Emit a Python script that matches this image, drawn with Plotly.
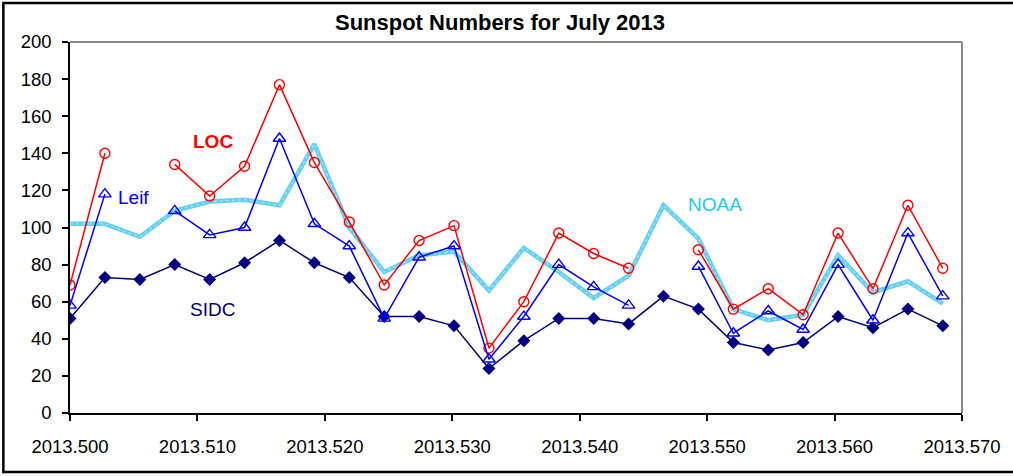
import plotly.graph_objects as go

day_index = list(range(26))
x_years = [2013.5 + d / 365.0 for d in day_index]

loc_vals = [69, 140, None, 134, 117, 133, 177, 135, 103, 69, 93, 101, 35, 60, 97, 86, 78, None, 88, 56, 67, 53, 97, 67, 112, 78]
leif_vals = [58, 118, None, 109, 96, 100, 148, 102, 90, 51, 84, 90, 29, 52, 80, 68, 58, None, 79, 43, 55, 45, 80, 50, 97, 63]
noaa_vals = [102, 102, 95, 109, 114, 115, 112, 145, 100, 76, 85, 87, 66, 89, 76, 62, 74, 112, 94, 56, 50, 53, 85, 65, 71, 59]
sidc_vals = [51, 73, 72, 80, 72, 81, 93, 81, 73, 52, 52, 47, 24, 39, 51, 51, 48, 63, 56, 38, 34, 38, 52, 46, 56, 47]

x_ticks = [2013.50, 2013.51, 2013.52, 2013.53, 2013.54, 2013.55, 2013.56, 2013.57]
x_tick_labels = ["2013.500", "2013.510", "2013.520", "2013.530", "2013.540", "2013.550", "2013.560", "2013.570"]
y_ticks = [0, 20, 40, 60, 80, 100, 120, 140, 160, 180, 200]

FONT = "Liberation Sans, Arial, sans-serif"

fig = go.Figure()

fig.add_trace(go.Scatter(x=x_years, y=noaa_vals, mode="lines", name="NOAA",
                         line=dict(color="#62d0f2", width=4.5)))
fig.add_trace(go.Scatter(x=x_years, y=noaa_vals, mode="lines", name="NOAA2", showlegend=False,
                         line=dict(color="#a8e7f8", width=1.2, dash="dot")))
fig.add_trace(go.Scatter(x=x_years, y=sidc_vals, mode="lines+markers", name="SIDC",
                         line=dict(color="#000080", width=1.5),
                         marker=dict(symbol="diamond", size=10, color="#000080")))
fig.add_trace(go.Scatter(x=x_years, y=loc_vals, mode="lines+markers", name="LOC", connectgaps=False,
                         line=dict(color="#ff0000", width=1.5),
                         marker=dict(symbol="circle-open", size=10, color="#ff0000", line=dict(width=1.4))))
fig.add_trace(go.Scatter(x=x_years, y=leif_vals, mode="lines+markers", name="Leif", connectgaps=False,
                         line=dict(color="#0000ff", width=1.5),
                         marker=dict(symbol="triangle-up-open", size=11, color="#0000ff", line=dict(width=1.4))))

annotations = [
    dict(text="<b>LOC</b>", x=2013.5 + (214 - 70) / 12810.0, y=(413 - 141) / 1.855, font=dict(color="#ff0000", size=19, family=FONT)),
    dict(text="Leif", x=2013.5 + (134 - 70) / 12810.0, y=(413 - 197) / 1.855, font=dict(color="#0000ff", size=19, family=FONT)),
    dict(text="SIDC", x=2013.5 + (213 - 70) / 12810.0, y=(413 - 309) / 1.855, font=dict(color="#000080", size=19, family=FONT)),
    dict(text="NOAA", x=2013.5 + (718 - 70) / 12810.0, y=(413 - 204) / 1.855, font=dict(color="#1ec8f5", size=19, family=FONT)),
]
for a in annotations:
    a.update(xref="x", yref="y", showarrow=False, xanchor="center", yanchor="middle")

W, H = 1013, 476
L, R, T, B = 70, 46, 42, 63
pw, ph = W - L - R, H - T - B

def px_x(p):
    return (p - L) / pw

def px_y(p):
    return (H - B - p) / ph

shapes = [
    dict(type="line", xref="paper", yref="paper", x0=0, x1=1, y0=1, y1=1, line=dict(color="#888888", width=2)),
    dict(type="line", xref="paper", yref="paper", x0=1, x1=1, y0=0, y1=1, line=dict(color="#888888", width=2)),
    dict(type="rect", xref="paper", yref="paper", x0=px_x(3), x1=px_x(1020), y0=px_y(472), y1=px_y(3),
         line=dict(color="#000000", width=2.5), fillcolor="rgba(0,0,0,0)"),
]

fig.update_layout(
    width=W, height=H,
    margin=dict(l=L, r=R, t=T, b=B),
    paper_bgcolor="white", plot_bgcolor="white",
    showlegend=False,
    title=dict(text="<b>Sunspot Numbers for July 2013</b>", x=(500) / W, xanchor="center",
               y=1 - 22 / H, yanchor="middle", font=dict(size=22, color="black", family=FONT)),
    xaxis=dict(range=[2013.5, 2013.57], tickvals=x_ticks, ticktext=x_tick_labels,
               showgrid=False, zeroline=False, showline=True, linecolor="black", linewidth=1.5,
               ticks="outside", ticklen=6, tickcolor="black", tickwidth=1.5,
               tickfont=dict(size=18.5, color="black", family=FONT), ticklabelstandoff=10),
    yaxis=dict(range=[0, 200], tickvals=y_ticks, showgrid=False, zeroline=False,
               showline=True, linecolor="black", linewidth=1.5,
               ticks="outside", ticklen=6, tickcolor="black", tickwidth=1.5,
               tickfont=dict(size=18.5, color="black", family=FONT), ticklabelstandoff=7),
    annotations=annotations,
    shapes=shapes,
)

fig.write_html("out.html", config={"displayModeBar": False},
               post_script="document.body.style.margin='0';document.body.style.overflow='hidden';")
